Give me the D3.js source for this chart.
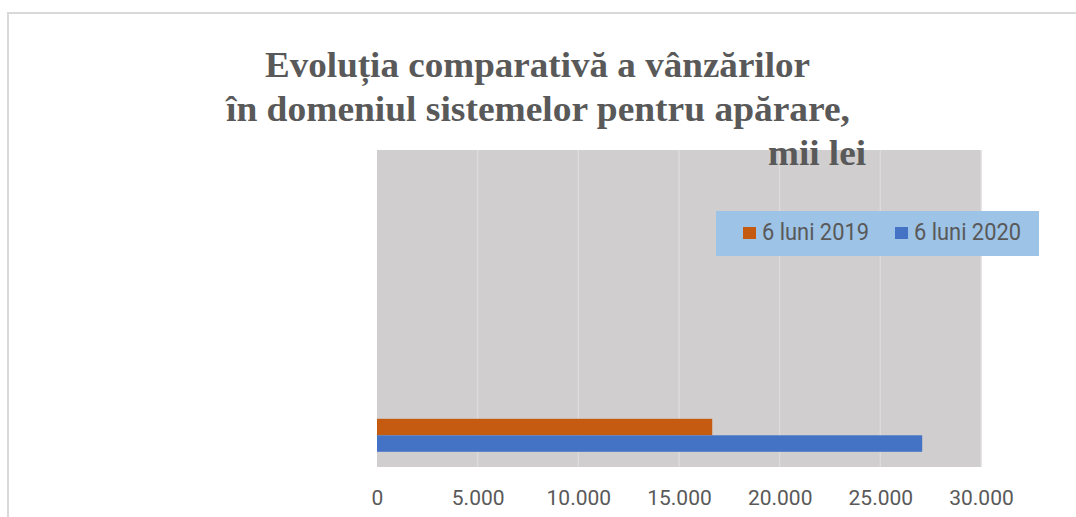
<!DOCTYPE html>
<html>
<head>
<meta charset="utf-8">
<script src="https://cdn.jsdelivr.net/npm/d3@7"></script>
<style>
body { margin: 0; background: #fff; }
</style>
</head>
<body>
<div id="chart"></div>
<script>
var W = 1076, H = 517;

// data
var categories = ["c1", "c2", "c3", "c4", "c5"];   // only the first slot holds values
var categoryLabels = ["", "", "", "", ""];
var seriesNames = ["6 luni 2019", "6 luni 2020"];
var values2019 = [16650, null, null, null, null];
var values2020 = [27080, null, null, null, null];
var xTicks = [0, 5000, 10000, 15000, 20000, 25000, 30000];
var titleLines = ["Evoluția comparativă a vânzărilor", "în domeniul sistemelor pentru apărare,", "mii lei"];

var colors = ["#C55A11", "#4472C4"];
var plot = { left: 377, right: 981, top: 150, bottom: 467 };

var svg = d3.select("#chart").append("svg")
	.attr("width", W)
	.attr("height", H)
	.attr("viewBox", "0 0 " + W + " " + H);

// outer frame
svg.append("rect")
	.attr("x", 8).attr("y", 13)
	.attr("width", W + 20).attr("height", H + 20)
	.attr("fill", "none")
	.attr("stroke", "#d9d9d9")
	.attr("stroke-width", 2);

var x = d3.scaleLinear().domain([0, 30000]).range([plot.left, plot.right]);
var y = d3.scaleBand().domain(categories).range([plot.bottom, plot.top])
	.paddingInner(0.48).paddingOuter(0.24);
var ySub = d3.scaleBand().domain(seriesNames).range([0, y.bandwidth()]);

// plot background
svg.append("rect")
	.attr("x", plot.left).attr("y", plot.top)
	.attr("width", plot.right - plot.left).attr("height", plot.bottom - plot.top)
	.attr("fill", "#D0CECE");

// gridlines
svg.append("g").selectAll("line")
	.data(xTicks.slice(1))
	.enter().append("line")
	.attr("x1", function(d) { return x(d); })
	.attr("x2", function(d) { return x(d); })
	.attr("y1", plot.top).attr("y2", plot.bottom)
	.attr("stroke", "#DCDADA")
	.attr("stroke-width", 1.5);

// bars
var rows = categories.map(function(c, i) {
	return [
		{ cat: c, s: seriesNames[0], v: values2019[i], col: colors[0] },
		{ cat: c, s: seriesNames[1], v: values2020[i], col: colors[1] }
	];
});
var flat = [].concat.apply([], rows).filter(function(d) { return d.v != null; });

svg.append("g").selectAll("rect")
	.data(flat)
	.enter().append("rect")
	.attr("x", x(0))
	.attr("y", function(d) { return y(d.cat) + ySub(d.s); })
	.attr("width", function(d) { return x(d.v) - x(0); })
	.attr("height", ySub.bandwidth())
	.attr("fill", function(d) { return d.col; });

// x axis labels
var xAxis = d3.axisBottom(x)
	.tickValues(xTicks)
	.tickSize(0)
	.tickPadding(0)
	.tickFormat(function(d) { return d3.format(",")(d).replace(/,/g, "."); });

var gx = svg.append("g")
	.attr("transform", "translate(0," + (plot.bottom + 23) + ")")
	.call(xAxis);
gx.select(".domain").remove();
gx.selectAll("text")
	.attr("fill", "#595959")
	.attr("font-family", "Roboto, 'Liberation Sans Narrow', sans-serif")
	.attr("font-size", "21px");

// legend
var lg = svg.append("g");
lg.append("rect")
	.attr("x", 716).attr("y", 211)
	.attr("width", 323).attr("height", 45)
	.attr("fill", "#9DC3E6");
var legendX = [743, 895];
seriesNames.forEach(function(s, i) {
	lg.append("rect")
		.attr("x", legendX[i]).attr("y", 227)
		.attr("width", 13).attr("height", 12)
		.attr("fill", colors[i]);
	lg.append("text")
		.attr("x", legendX[i] + 19).attr("y", 240)
		.attr("fill", "#595959")
		.attr("font-family", "Roboto, sans-serif")
		.attr("font-size", "23px")
		.attr("textLength", 107)
		.attr("lengthAdjust", "spacingAndGlyphs")
		.text(s);
});

// title
var titlePos = [
	{ x: 265, y: 77, len: 545 },
	{ x: 226, y: 121, len: 624 },
	{ x: 768, y: 165, len: 98 }
];
svg.append("g").selectAll("text")
	.data(titleLines)
	.enter().append("text")
	.attr("x", function(d, i) { return titlePos[i].x; })
	.attr("y", function(d, i) { return titlePos[i].y; })
	.attr("textLength", function(d, i) { return titlePos[i].len; })
	.attr("lengthAdjust", "spacingAndGlyphs")
	.attr("fill", "#595959")
	.attr("font-family", "'Liberation Serif', 'Times New Roman', serif")
	.attr("font-weight", "bold")
	.attr("font-size", "36px")
	.text(function(d) { return d; });
</script>
</body>
</html>
